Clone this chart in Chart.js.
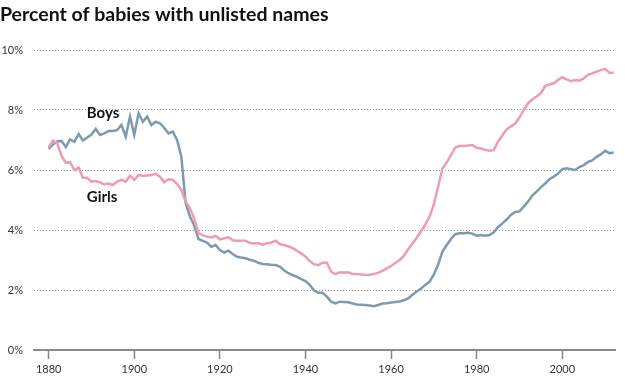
<!DOCTYPE html>
<html>
<head>
<meta charset="utf-8">
<script src="https://cdn.jsdelivr.net/npm/chart.js@4/dist/chart.umd.min.js"></script>
<style>
html,body{margin:0;padding:0;background:#fff;}
canvas{display:block;}
</style>
</head>
<body>
<canvas id="c" width="625" height="384"></canvas>
<script>
const firstYear = 1880;
const boys = [
  6.70, 6.85, 6.95, 6.97, 6.76, 7.02, 6.94, 7.20, 6.98, 7.08,
  7.18, 7.37, 7.17, 7.22, 7.30, 7.30, 7.33, 7.50, 7.11, 7.78,
  7.17, 7.89, 7.61, 7.78, 7.50, 7.61, 7.56, 7.40, 7.22, 7.28,
  7.00, 6.44, 4.90, 4.45, 4.15, 3.70, 3.64, 3.58, 3.44, 3.50,
  3.33, 3.25, 3.31, 3.20, 3.11, 3.08, 3.06, 3.01, 2.97, 2.91,
  2.87, 2.86, 2.84, 2.83, 2.78, 2.66, 2.56, 2.50, 2.44, 2.36,
  2.30, 2.17, 1.98, 1.91, 1.91, 1.78, 1.61, 1.55, 1.61, 1.60,
  1.59, 1.55, 1.52, 1.51, 1.50, 1.48, 1.46, 1.50, 1.55, 1.56,
  1.58, 1.60, 1.62, 1.66, 1.72, 1.84, 1.95, 2.05, 2.17, 2.28,
  2.52, 2.85, 3.28, 3.50, 3.70, 3.86, 3.89, 3.89, 3.91, 3.88,
  3.81, 3.83, 3.81, 3.83, 3.92, 4.10, 4.22, 4.35, 4.50, 4.60,
  4.62, 4.78, 4.95, 5.15, 5.28, 5.42, 5.55, 5.69, 5.78, 5.88,
  6.03, 6.06, 6.03, 6.00, 6.10, 6.16, 6.27, 6.32, 6.44, 6.52,
  6.64, 6.56, 6.58
];
const girls = [
  6.76, 6.98, 6.89, 6.47, 6.24, 6.26, 6.00, 6.08, 5.74, 5.74,
  5.61, 5.63, 5.59, 5.52, 5.55, 5.50, 5.61, 5.67, 5.61, 5.81,
  5.67, 5.83, 5.81, 5.82, 5.83, 5.87, 5.78, 5.59, 5.69, 5.67,
  5.53, 5.33, 4.94, 4.72, 4.39, 3.90, 3.82, 3.78, 3.75, 3.80,
  3.69, 3.72, 3.76, 3.66, 3.64, 3.64, 3.64, 3.57, 3.56, 3.56,
  3.50, 3.56, 3.58, 3.64, 3.53, 3.50, 3.45, 3.40, 3.31, 3.22,
  3.12, 2.96, 2.86, 2.83, 2.91, 2.91, 2.61, 2.53, 2.59, 2.58,
  2.59, 2.53, 2.53, 2.52, 2.50, 2.51, 2.53, 2.58, 2.64, 2.72,
  2.80, 2.90, 3.00, 3.14, 3.36, 3.55, 3.74, 3.96, 4.18, 4.45,
  4.85, 5.45, 6.05, 6.25, 6.50, 6.75, 6.80, 6.80, 6.82, 6.83,
  6.74, 6.72, 6.67, 6.64, 6.66, 6.95, 7.15, 7.35, 7.45, 7.55,
  7.75, 8.00, 8.22, 8.35, 8.45, 8.56, 8.80, 8.85, 8.89, 9.00,
  9.09, 9.02, 8.96, 9.00, 8.98, 9.05, 9.17, 9.22, 9.28, 9.33,
  9.37, 9.24, 9.24
];
const xTickValues = [1880, 1900, 1920, 1940, 1960, 1980, 2000];
const yTickValues = [0, 2, 4, 6, 8, 10];
const seriesLabels = [
  {text: 'Boys', year: 1888.9, value: 7.73},
  {text: 'Girls', year: 1888.9, value: 4.93}
];
const titleText = 'Percent of babies with unlisted names';

const years = boys.map((_, i) => firstYear + i);
const toPoints = arr => arr.map((v, i) => ({x: years[i], y: v}));

const labelPlugin = {
  id: 'seriesLabels',
  afterDatasetsDraw(chart) {
    const {ctx, scales} = chart;
    ctx.save();
    ctx.font = 'bold 15px Lato, "DejaVu Sans", sans-serif';
    ctx.fillStyle = '#111';
    ctx.textAlign = 'left';
    ctx.textBaseline = 'alphabetic';
    seriesLabels.forEach(l => {
      ctx.fillText(l.text, scales.x.getPixelForValue(l.year), scales.y.getPixelForValue(l.value));
    });
    ctx.restore();
  }
};

new Chart(document.getElementById('c'), {
  type: 'line',
  data: {
    datasets: [
      {label: 'Girls', data: toPoints(girls), borderColor: '#ef9bb0', borderWidth: 2.5, pointRadius: 0, tension: 0},
      {label: 'Boys', data: toPoints(boys), borderColor: '#7d9bae', borderWidth: 2.5, pointRadius: 0, tension: 0}
    ]
  },
  options: {
    responsive: false,
    devicePixelRatio: 1,
    animation: false,
    layout: {padding: {left: 0, right: 10, top: 0, bottom: 0}},
    plugins: {
      legend: {display: false},
      tooltip: {enabled: false},
      title: {
        display: true,
        text: titleText,
        align: 'start',
        color: '#111',
        font: {family: 'Lato, "DejaVu Sans", sans-serif', size: 19.5, weight: 'bold'},
        padding: {top: 3, bottom: 23.6}
      }
    },
    scales: {
      x: {
        type: 'linear',
        min: 1876.57,
        max: 2012.32,
        afterBuildTicks: s => { s.ticks = xTickValues.map(v => ({value: v})); },
        afterFit: s => { s.height = 34; },
        grid: {drawOnChartArea: false, drawTicks: true, tickLength: 9, tickColor: '#888', tickWidth: 1.5},
        border: {display: true, color: '#8a8a8a', width: 2},
        ticks: {
          padding: 4,
          color: '#333',
          font: {family: 'Lato, "DejaVu Sans", sans-serif', size: 11},
          maxRotation: 0,
          callback: v => String(v)
        }
      },
      y: {
        min: 0,
        max: 10,
        afterBuildTicks: s => { s.ticks = yTickValues.map(v => ({value: v})); },
        afterFit: s => { s.width = 34; },
        grid: {
          drawTicks: false,
          color: ctx => ctx.tick && ctx.tick.value === 0 ? 'rgba(0,0,0,0)' : '#999',
          lineWidth: 1
        },
        border: {display: false, dash: [1, 2]},
        ticks: {
          padding: 11,
          color: '#333',
          font: {family: 'Lato, "DejaVu Sans", sans-serif', size: 11},
          callback: v => v + '%'
        }
      }
    }
  },
  plugins: [labelPlugin]
});
</script>
</body>
</html>
